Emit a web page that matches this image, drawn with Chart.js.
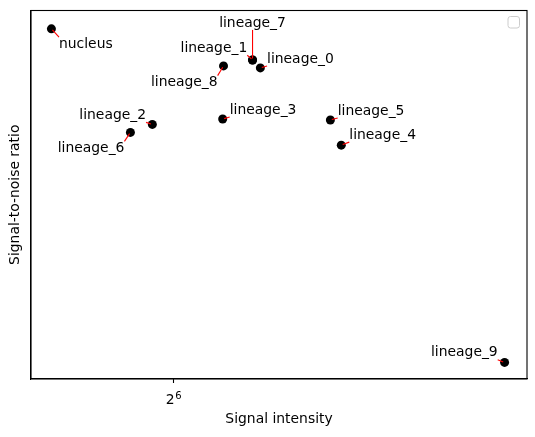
<!DOCTYPE html>
<html>
<head>
<meta charset="utf-8">
<script src="https://cdn.jsdelivr.net/npm/chart.js@4"></script>
<style>
  html, body { margin: 0; padding: 0; background: #fff; }
  #wrap { width: 535px; height: 437px; }
</style>
</head>
<body>
<div id="wrap"><canvas id="plot"></canvas></div>
<script>
// lineage names and their signal / SNR values
const names = ['nucleus', 'lineage_0', 'lineage_1', 'lineage_2', 'lineage_3', 'lineage_4',
               'lineage_5', 'lineage_6', 'lineage_7', 'lineage_8', 'lineage_9'];
const intensity = [51.8, 74.4, 73.4, 61.7, 69.7, 85.6, 84.0, 59.4, 73.4, 69.8, 113.6];
const snr = [30.0, 26.72, 27.39, 21.98, 22.43, 20.24, 22.35, 21.31, 27.39, 26.89, 2.0];
const xTicks = [64];
const xTickBase = ['2'];
const xTickExp = ['6'];

// where each label text sits relative to its point (px: left edge, vertical centre)
const labelOffsets = [[7.6, 15.3], [6.7, -9], [-72, -11.7], [-73, -9], [7, -9], [8, -10],
                      [7.3, -9], [-72.7, 16], [-33.4, -37], [-72.6, 16.7], [-73.6, -9.6]];

const FONT = '"DejaVu Sans", sans-serif';
const points = intensity.map((x, i) => ({ x, y: snr[i] }));

const labelPlugin = {
    id: 'labels',
    afterDatasetsDraw(chart) {
        const ctx = chart.ctx;
        const meta = chart.getDatasetMeta(0);
        ctx.save();
        ctx.font = '13.9px ' + FONT;
        ctx.textAlign = 'left';
        ctx.textBaseline = 'middle';
        meta.data.forEach((pt, i) => {
            const [dx, dy] = labelOffsets[i];
            const tx = pt.x + dx, ty = pt.y + dy;
            const w = ctx.measureText(names[i]).width;
            // connector: from point to nearest spot of the text box
            const bx = Math.min(Math.max(pt.x, tx), tx + w);
            const by = Math.min(Math.max(pt.y, ty - 7), ty + 7);
            const len = Math.hypot(bx - pt.x, by - pt.y);
            if (len > 2) {
                const ux = (bx - pt.x) / len, uy = (by - pt.y) / len;
                ctx.strokeStyle = '#ff0000';
                ctx.lineWidth = 1.1;
                ctx.beginPath();
                ctx.moveTo(pt.x + ux * 1.5, pt.y + uy * 1.5);
                ctx.lineTo(bx, by);
                ctx.stroke();
            }
            ctx.fillStyle = '#000';
            ctx.fillText(names[i], tx, ty);
        });
        ctx.restore();
    },
    afterDraw(chart) {
        const { ctx, chartArea: a } = chart;
        ctx.save();
        ctx.strokeStyle = '#000';
        ctx.lineWidth = 1.1;
        ctx.strokeRect(a.left, a.top, a.right - a.left, a.bottom - a.top);
        // tick labels as base with superscript exponent
        const xs = chart.scales.x;
        ctx.fillStyle = '#000';
        ctx.textBaseline = 'alphabetic';
        ctx.textAlign = 'left';
        xTicks.forEach((v, i) => {
            const px = xs.getPixelForValue(v);
            ctx.font = '13.9px ' + FONT;
            const wb = ctx.measureText(xTickBase[i]).width;
            ctx.font = '10px ' + FONT;
            const we = ctx.measureText(xTickExp[i]).width;
            const left = px - (wb + we) / 2;
            ctx.font = '13.9px ' + FONT;
            ctx.fillText(xTickBase[i], left, a.bottom + 24.5);
            ctx.font = '10px ' + FONT;
            ctx.fillText(xTickExp[i], left + wb + 0.5, a.bottom + 20);
        });
        // empty legend frame
        const lx = a.right - 19, ly = a.top + 6, s = 11.5, r = 2.5;
        ctx.beginPath();
        ctx.roundRect(lx, ly, s, s, r);
        ctx.fillStyle = 'rgba(255,255,255,0.8)';
        ctx.fill();
        ctx.strokeStyle = '#cccccc';
        ctx.lineWidth = 1;
        ctx.stroke();
        ctx.restore();
    }
};

new Chart(document.getElementById('plot'), {
    type: 'scatter',
    data: {
        datasets: [{
            data: points,
            backgroundColor: '#000',
            borderWidth: 0,
            pointRadius: 4.5,
            pointHoverRadius: 4.5
        }]
    },
    options: {
        responsive: true,
        maintainAspectRatio: false,
        animation: false,
        events: [],
        layout: { padding: { left: 0, top: 10.5, right: 8, bottom: 0 } },
        plugins: { legend: { display: false }, tooltip: { enabled: false } },
        scales: {
            x: {
                type: 'logarithmic',
                min: 50.0,
                max: 118.1,
                afterBuildTicks: s => { s.ticks = xTicks.map(v => ({ value: v })); },
                afterFit: s => { s.height = 58; },
                ticks: {
                    color: 'rgba(0,0,0,0)',
                    font: { family: FONT, size: 13.9 },
                    padding: 5,
                    maxRotation: 0,
                    autoSkip: false,
                    callback: () => ' '
                },
                grid: { drawOnChartArea: false, drawTicks: true, tickLength: 4, color: '#000', tickWidth: 1.1 },
                border: { display: true, color: '#000', width: 1.1 },
                title: {
                    display: true,
                    text: 'Signal intensity',
                    color: '#000',
                    font: { family: FONT, size: 13.9 },
                    padding: { top: 0, bottom: 9 }
                }
            },
            y: {
                type: 'linear',
                min: 0.61,
                max: 31.54,
                afterFit: s => { s.width = 31; },
                ticks: { display: false },
                grid: { display: false },
                border: { display: true, color: '#000', width: 1.1 },
                title: {
                    display: true,
                    text: 'Signal-to-noise ratio',
                    color: '#000',
                    font: { family: FONT, size: 13.9 },
                    padding: { top: 7, bottom: 0 }
                }
            }
        }
    },
    plugins: [labelPlugin]
});
</script>
</body>
</html>
